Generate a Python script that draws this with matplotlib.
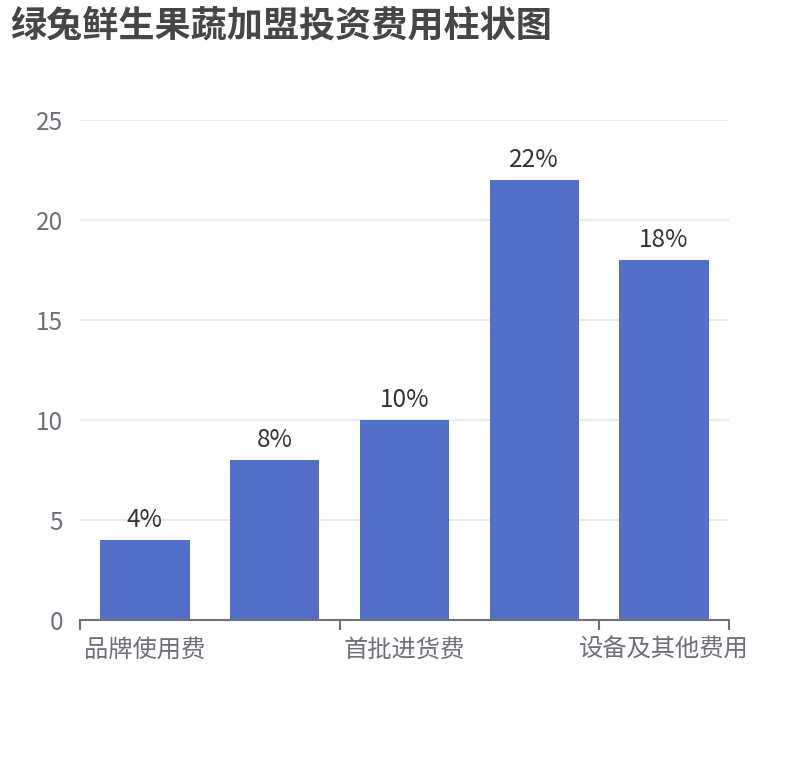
import matplotlib
matplotlib.use("Agg")
import matplotlib.pyplot as plt
import numpy as np

plt.rcParams['font.family'] = ['Noto Sans CJK SC', 'DejaVu Sans']

TITLE = "绿兔鲜生果蔬加盟投资费用柱状图"
# the 2nd and 4th names are hidden by the axis label interval in the reference
categories = ["品牌使用费", "装修费用", "首批进货费", "店面租金", "设备及其他费用"]
values = [4, 8, 10, 22, 18]
y_ticks = [0, 5, 10, 15, 20, 25]

BAR = "#5470c6"
GRID = "#e0e6f1"
AXIS = "#6e7079"

W, H = 810, 760
fig = plt.figure(figsize=(W / 100, H / 100), dpi=100)
ax = fig.add_axes([80 / W, 1 - 620 / H, 649 / W, 500 / H])

x = np.arange(len(categories))
ax.bar(x, values, width=0.69, color=BAR, zorder=3)
for xi, v in zip(x, values):
    ax.annotate(f"{v}%", (xi, v), xytext=(0, 5), textcoords="offset points",
                ha="center", va="bottom", fontsize=17.5, color="#333333")

ax.set_xlim(-0.5, len(categories) - 0.5)
ax.set_ylim(0, 25)
ax.set_yticks(y_ticks)
ax.yaxis.grid(True, color=GRID, linewidth=1.2, zorder=0)
ax.tick_params(axis="y", length=0, pad=12, labelsize=17.5, labelcolor=AXIS)

# ticks at category boundaries, labels at centres (every other one shown)
ax.set_xticks([-0.5, 1.5, 3.5, 4.5])
ax.set_xticklabels([])
ax.tick_params(axis="x", which="major", length=7, width=1.5, color=AXIS)
ax.set_xticks(x[::2], minor=True)
ax.set_xticklabels(categories[::2], minor=True)
ax.tick_params(axis="x", which="minor", length=0, pad=12, labelsize=17.5, labelcolor=AXIS)

for side in ["top", "right", "left"]:
    ax.spines[side].set_visible(False)
ax.spines["bottom"].set_color(AXIS)
ax.spines["bottom"].set_linewidth(1.5)
ax.spines["bottom"].set_zorder(4)

fig.text(10 / W, 1 - 26 / H, TITLE, fontsize=26, fontweight="bold",
         color="#464646", ha="left", va="center")

fig.savefig("out.png", dpi=100)
